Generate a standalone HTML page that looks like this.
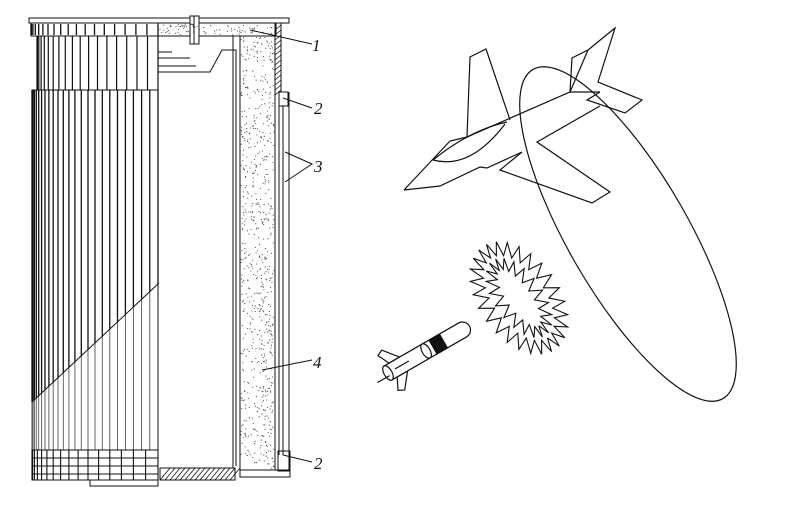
<!DOCTYPE html>
<html><head><meta charset="utf-8"><style>
html,body{margin:0;padding:0;background:#fff;}
svg{display:block}
text{font-family:"Liberation Serif",serif;font-style:italic;font-size:17px;fill:#111}
</style></head><body>
<svg id="s" width="789" height="529" viewBox="0 0 789 529" xmlns="http://www.w3.org/2000/svg" stroke="#111" fill="none" stroke-width="1">
<g id="cyl"></g>
<rect x="29" y="18" width="260" height="5" fill="#fff"/>
<rect x="158" y="23" width="118" height="13" fill="none"/>
<line x1="158" y1="23" x2="158" y2="480"/>
<path d="M158 52 H172 M158 58 H190 M158 66 H196 M158 72 H210 L222 50 H236 V466" />
<line x1="233" y1="36" x2="233" y2="468"/>
<line x1="240" y1="36" x2="240" y2="470"/>
<rect x="240" y="36" width="35" height="434"/>
<line x1="275" y1="23" x2="275" y2="470"/>
<line x1="281" y1="23" x2="281" y2="95"/>
<g id="hatch"></g>
<rect x="279" y="92" width="9" height="14" fill="#fff"/>
<path d="M279 106 V455 M283 106 V455 M289 92 V470" />
<rect x="278" y="451" width="12" height="20"/>
<rect x="240" y="470" width="50" height="7"/>
<rect x="190" y="16" width="9" height="28" fill="#fff"/>
<line x1="194" y1="16" x2="194" y2="44"/>
<rect x="160" y="468" width="75" height="12"/>
<path d="M90 480 H158 V486 H90 Z"/>
<g id="dots" stroke="none" fill="#333"></g>
<path d="M250 30 L312 44 M283 98 L312 108 M285 152 L312 164 L285 182 M262 370 L312 360 M283 455 L312 462" />
<text x="312" y="51" stroke="none">1</text>
<text x="314" y="114" stroke="none">2</text>
<text x="314" y="172" stroke="none">3</text>
<text x="313" y="368" stroke="none">4</text>
<text x="314" y="469" stroke="none">2</text>

<ellipse cx="628" cy="234" rx="190" ry="60" transform="rotate(60 628 234)" stroke-width="1.2"/>
<g stroke-width="1.2" fill="none">
<path d="M404 190 L450 141 L467 137 L570 92 L600 92"/>
<path d="M404 190 L440 186 L480 167 L487 168 L522 152"/>
<path d="M467 137 L470 57 L486 49 L510 120"/>
<path d="M570 92 L572 58 L588 50 L570 92 M588 50 L615 28 L598 82 L642 100 L625 113 L587 100 L600 92"/>
<path d="M522 152 L500 170 L592 203 L610 192 L537 142 L600 106"/>
<path d="M433 160 Q470 130 507 122 M433 160 Q470 170 505 124"/>
</g>
<g id="zz" stroke-width="1.1"></g>
<g transform="translate(388,373) rotate(-30)" stroke-width="1.2" fill="#fff">
<path d="M6 -8 L0 -20 L6 -23 L18 -8 Z"/>
<path d="M6 8 L0 20 L6 23 L18 8 Z"/>
<path d="M0 -8 H86 A8 8 0 0 1 86 8 H0 Z"/>
<ellipse cx="0" cy="0" rx="4" ry="8"/>
<line x1="-14" y1="3" x2="0" y2="3"/>
<line x1="8" y1="0" x2="24" y2="0"/>
<ellipse cx="44" cy="0" rx="4" ry="8"/>
<path d="M52 -8 H64 V8 H52 Z" fill="#111"/>
</g>
</svg>
<script>
var NS="http://www.w3.org/2000/svg";
function el(p,t,a){var e=document.createElementNS(NS,t);for(var k in a)e.setAttribute(k,a[k]);p.appendChild(e);return e;}
var cyl=document.getElementById('cyl');
function lines(x0,x1,y0,y1,n,w,c){for(var i=0;i<=n;i++){var t=i/n*Math.PI/2;var x=x0+(x1-x0)*(1-Math.cos(t));el(cyl,'line',{x1:x.toFixed(1),y1:y0,x2:x.toFixed(1),y2:y1,'stroke-width':w,stroke:c||'#111'});}}
el(cyl,'rect',{x:31,y:23,width:127,height:13});
lines(31,158,24,35,18,1.3);
el(cyl,'rect',{x:37,y:36,width:121,height:54});
lines(37,158,36,90,18,1.2);
el(cyl,'rect',{x:32,y:90,width:126,height:360});
for(var i=0;i<=24;i++){var t=i/24*Math.PI/2;var x=32+126*(1-Math.cos(t));var yd=283+(159-x)*(119/127);el(cyl,'line',{x1:x.toFixed(1),y1:90,x2:x.toFixed(1),y2:yd.toFixed(1),'stroke-width':1.3});el(cyl,'line',{x1:x.toFixed(1),y1:yd.toFixed(1),x2:x.toFixed(1),y2:450,'stroke-width':0.9,stroke:'#555'});}
el(cyl,'line',{x1:159,y1:283,x2:32,y2:402});
el(cyl,'rect',{x:32,y:450,width:126,height:30});
for(var j=0;j<3;j++)el(cyl,'line',{x1:32,y1:458+j*8,x2:158,y2:458+j*8});
lines(32,158,450,480,16,1.1);
var h=document.getElementById('hatch');
for(var y=25;y<95;y+=5)el(h,'line',{x1:275,y1:y+5,x2:281,y2:y,'stroke-width':0.8});
for(var x=160;x<235;x+=5)el(h,'line',{x1:x,y1:480,x2:x+10,y2:468,'stroke-width':0.8});
var d=document.getElementById('dots');var seed=7;function r(){seed=(seed*16807)%2147483647;return seed/2147483647;}
function stip(x,y,w,hh,n){for(var i=0;i<n;i++)el(d,'circle',{cx:(x+r()*w).toFixed(1),cy:(y+r()*hh).toFixed(1),r:0.55});}
stip(241,37,33,432,700);stip(160,24,114,11,90);
var zz=document.getElementById('zz');
function ring(cx,cy,rx,ry,amp,N,rot){var pts=[];var c=Math.cos(rot),s=Math.sin(rot);for(var i=0;i<=N*2;i++){var a=i/(N*2)*Math.PI*2;var rr=(i%2?1:-1)*amp;var x=(rx+rr)*Math.cos(a),y=(ry+rr)*Math.sin(a);pts.push((cx+x*c-y*s).toFixed(1)+','+(cy+x*s+y*c).toFixed(1));}el(zz,'polyline',{points:pts.join(' ')});}
ring(519,298,56,33,7,26,0.95);
ring(519,298,40,18,6,20,0.95);
</script>
</body></html>
